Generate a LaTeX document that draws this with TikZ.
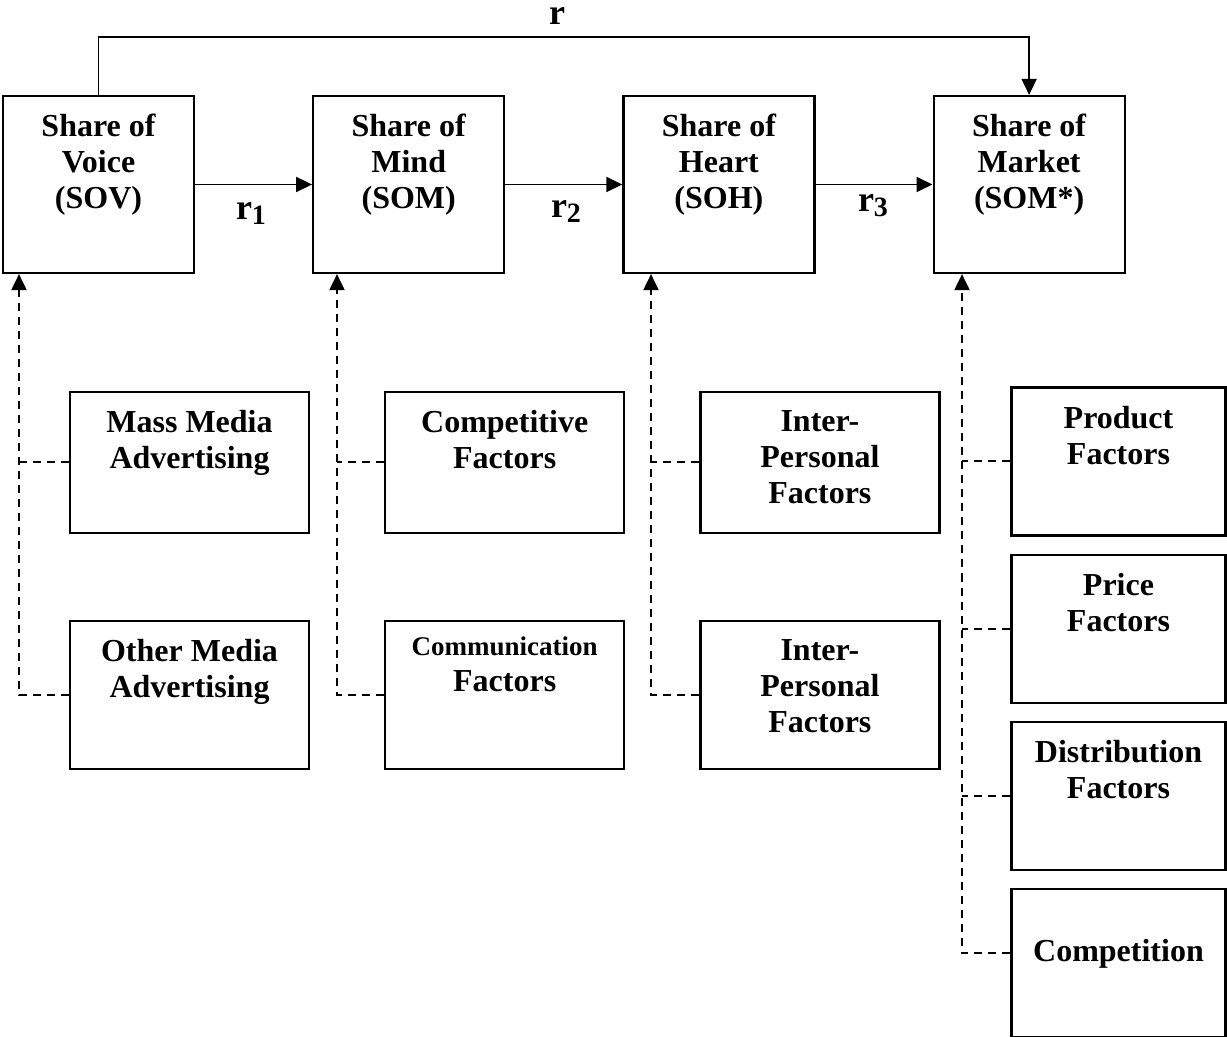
\documentclass[tikz,border=0pt]{standalone}
\usepackage{fontspec}
\setmainfont{Liberation Serif}
\usetikzlibrary{positioning, arrows.meta}

\newcommand{\rsub}[1]{r\raisebox{-2.5pt}{\fontsize{14}{14}\selectfont #1}}

\begin{document}
\begin{tikzpicture}[
    x=0.5pt, y=-0.5pt,
    box/.style={draw, line width=1.1pt, inner sep=0pt},
    topbox/.style={box, minimum width=95.5pt, minimum height=88.5pt},
    midbox/.style={box, minimum width=119.5pt, minimum height=70.5pt},
    lowbox/.style={box, minimum width=119.5pt, minimum height=74pt},
    sidebox/.style={box, minimum width=107pt, minimum height=74pt},
    txt/.style={align=center, inner sep=0pt, font=\bfseries\fontsize{16}{18}\selectfont},
    cap/.style={label={[txt, anchor=north, yshift=-9.5pt]north:{#1}}},
    rlab/.style={font=\bfseries\fontsize{18}{20}\selectfont, inner sep=0pt, anchor=base},
    arr/.style={line width=0.9pt, -{Triangle[length=8pt, width=7.5pt]}},
    dashln/.style={line width=1pt, dash pattern=on 4pt off 3pt},
    dasharr/.style={dashln, -{Triangle[length=8pt, width=7.5pt]}}
]
\useasboundingbox (0,0) rectangle (1227,1037);

% top row
\node[topbox, cap={Share of\\Voice\\(SOV)}] (sov) at (98.5,184.5) {};
\node[topbox, right=58.5pt of sov, cap={Share of\\Mind\\(SOM)}] (som) {};
\node[topbox, right=58.5pt of som, cap={Share of\\Heart\\(SOH)}] (soh) {};
\node[topbox, right=58.5pt of soh, cap={Share of\\Market\\(SOM*)}] (sommkt) {};

% factor boxes
\node[midbox, cap={Mass Media\\Advertising}] (mass) at (189.5,462.5) {};
\node[midbox, right=37pt of mass, cap={Competitive\\Factors}] (compf) {};
\node[midbox, right=37pt of compf, cap={Inter-\\Personal\\Factors}] (inter1) {};

\node[lowbox, cap={Other Media\\Advertising}] (other) at (189.5,695) {};
\node[lowbox, right=37pt of other, label={[txt, anchor=north, yshift=-8.3pt]north:{{\fontsize{13.5}{18}\selectfont Communication}\\Factors}}] (comm) {};
\node[lowbox, right=37pt of comm, cap={Inter-\\Personal\\Factors}] (inter2) {};

\node[sidebox, cap={Product\\Factors}] (prod) at (1118.5,461.5) {};
\node[sidebox, below=8.5pt of prod, cap={Price\\Factors}] (price) {};
\node[sidebox, below=8.5pt of price, cap={Distribution\\Factors}] (dist) {};
\node[sidebox, below=8.5pt of dist, label={[txt, anchor=north, yshift=-25.5pt]north:Competition}] (compet) {};

% spines of the dashed links
\coordinate (sp1) at (19,0);
\coordinate (sp2) at (337,0);
\coordinate (sp3) at (651,0);
\coordinate (sp4) at (962,0);

\draw[dasharr] (other.west) -| (sov.south -| sp1);
\draw[dashln] (mass.west) -- (mass.west -| sp1);
\draw[dasharr] (comm.west) -| (som.south -| sp2);
\draw[dashln] (compf.west) -- (compf.west -| sp2);
\draw[dasharr] (inter2.west) -| (soh.south -| sp3);
\draw[dashln] (inter1.west) -- (inter1.west -| sp3);
\draw[dasharr] ([yshift=5pt]compet.west) -| (sommkt.south -| sp4);
\foreach \b in {prod,price,dist}
    \draw[dashln] (\b.west) -- (\b.west -| sp4);

% main chain
\draw[arr] (sov) -- (som);
\draw[arr] (som) -- (soh);
\draw[arr] (soh) -- (sommkt);
\coordinate (rtop) at (556,37);
\draw[arr] (sov.north) |- (rtop) -| (sommkt.north);

\node[rlab] (r) at (557,25) {r};
\node[rlab] (r1) at (251,220) {\rsub{1}};
\node[rlab] (r2) at (566,218) {\rsub{2}};
\node[rlab] (r3) at (873,212) {\rsub{3}};
\end{tikzpicture}
\end{document}
